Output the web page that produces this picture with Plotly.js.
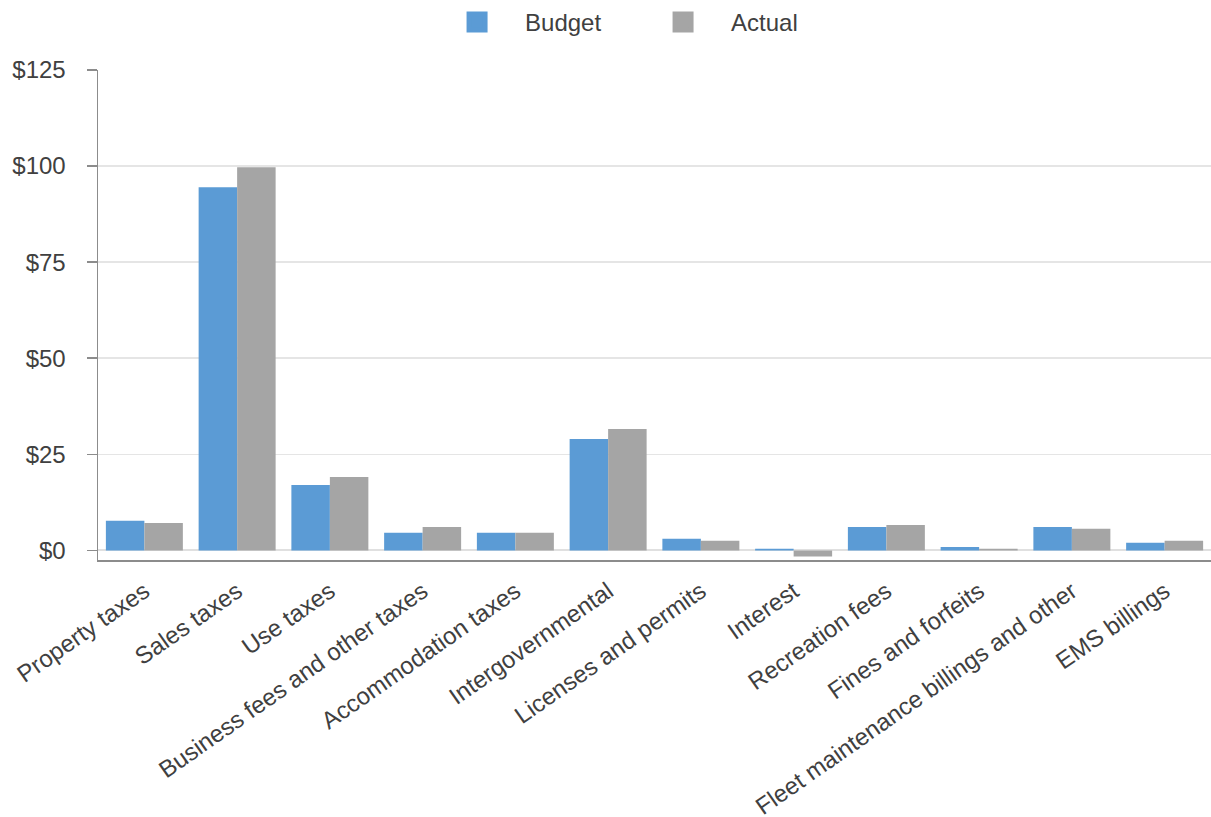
<!DOCTYPE html>
<html>
<head>
<meta charset="utf-8">
<script src="https://cdn.plot.ly/plotly-3.0.1.min.js"></script>
<style>html,body{margin:0;padding:0;background:#fff;}#chart{width:1211px;height:817px;}</style>
</head>
<body>
<div id="chart"></div>
<script>
const categories = ["Property taxes","Sales taxes","Use taxes","Business fees and other taxes","Accommodation taxes","Intergovernmental","Licenses and permits","Interest","Recreation fees","Fines and forfeits","Fleet maintenance billings and other","EMS billings"];
const budget = [7.7, 94.5, 17.0, 4.6, 4.6, 29.0, 3.0, 0.4, 6.1, 0.9, 6.1, 2.0];
const actual = [7.1, 99.7, 19.1, 6.1, 4.6, 31.6, 2.5, -1.6, 6.6, 0.4, 5.6, 2.5];
const seriesNames = ["Budget","Actual"];
const colors = ["#5b9bd5","#a5a5a5"];
const yTickVals = [0, 25, 50, 75, 100, 125];
const yTickText = ["$0", "$25", "$50", "$75", "$100", "$125"];

const font = {family: "Liberation Sans, Arial, sans-serif", size: 24, color: "#404040"};

const traces = [
  {type:"bar", x:categories, y:budget, name:seriesNames[0], marker:{color:colors[0]}, showlegend:false},
  {type:"bar", x:categories, y:actual, name:seriesNames[1], marker:{color:colors[1]}, showlegend:false},
  {type:"scatter", mode:"markers", x:[null], y:[null], name:seriesNames[0], marker:{symbol:"square", size:16, color:colors[0], line:{width:8, color:colors[0]}}, showlegend:true},
  {type:"scatter", mode:"markers", x:[null], y:[null], name:seriesNames[1], marker:{symbol:"square", size:16, color:colors[1], line:{width:8, color:colors[1]}}, showlegend:true}
];

const layout = {
  width:1211, height:817,
  margin:{l:98, r:0, t:69.5, b:257},
  paper_bgcolor:"#fff", plot_bgcolor:"#fff",
  font: font,
  barmode:"group", bargap:0.17, bargroupgap:0,
  showlegend:true,
  legend:{orientation:"h", xref:"container", yref:"container", x:0.3543, xanchor:"left", y:1, yanchor:"top",
          itemwidth:86, entrywidth:105, entrywidthmode:"pixels", font:{size:24, color:"#404040"}},
  xaxis:{type:"category", tickangle:-35, showgrid:false, showline:true, linecolor:"#8c8c8c", linewidth:2,
         ticks:"", ticklabelstandoff:6, tickfont:{size:24, color:"#404040"}, fixedrange:true},
  yaxis:{range:[-2.5,125], tickmode:"array", tickvals:yTickVals, ticktext:yTickText, showgrid:true, gridcolor:"#e5e5e5", gridwidth:1.5,
         zeroline:true, zerolinecolor:"#e0e0e0", zerolinewidth:2,
         showline:true, linecolor:"#8c8c8c", linewidth:1.5, ticks:"outside", ticklen:10, tickcolor:"#8c8c8c", tickwidth:1.5,
         ticklabelstandoff:16, tickfont:{size:24, color:"#404040"}, fixedrange:true}
};

Plotly.newPlot("chart", traces, layout, {displayModeBar:false, staticPlot:true});
</script>
</body>
</html>
